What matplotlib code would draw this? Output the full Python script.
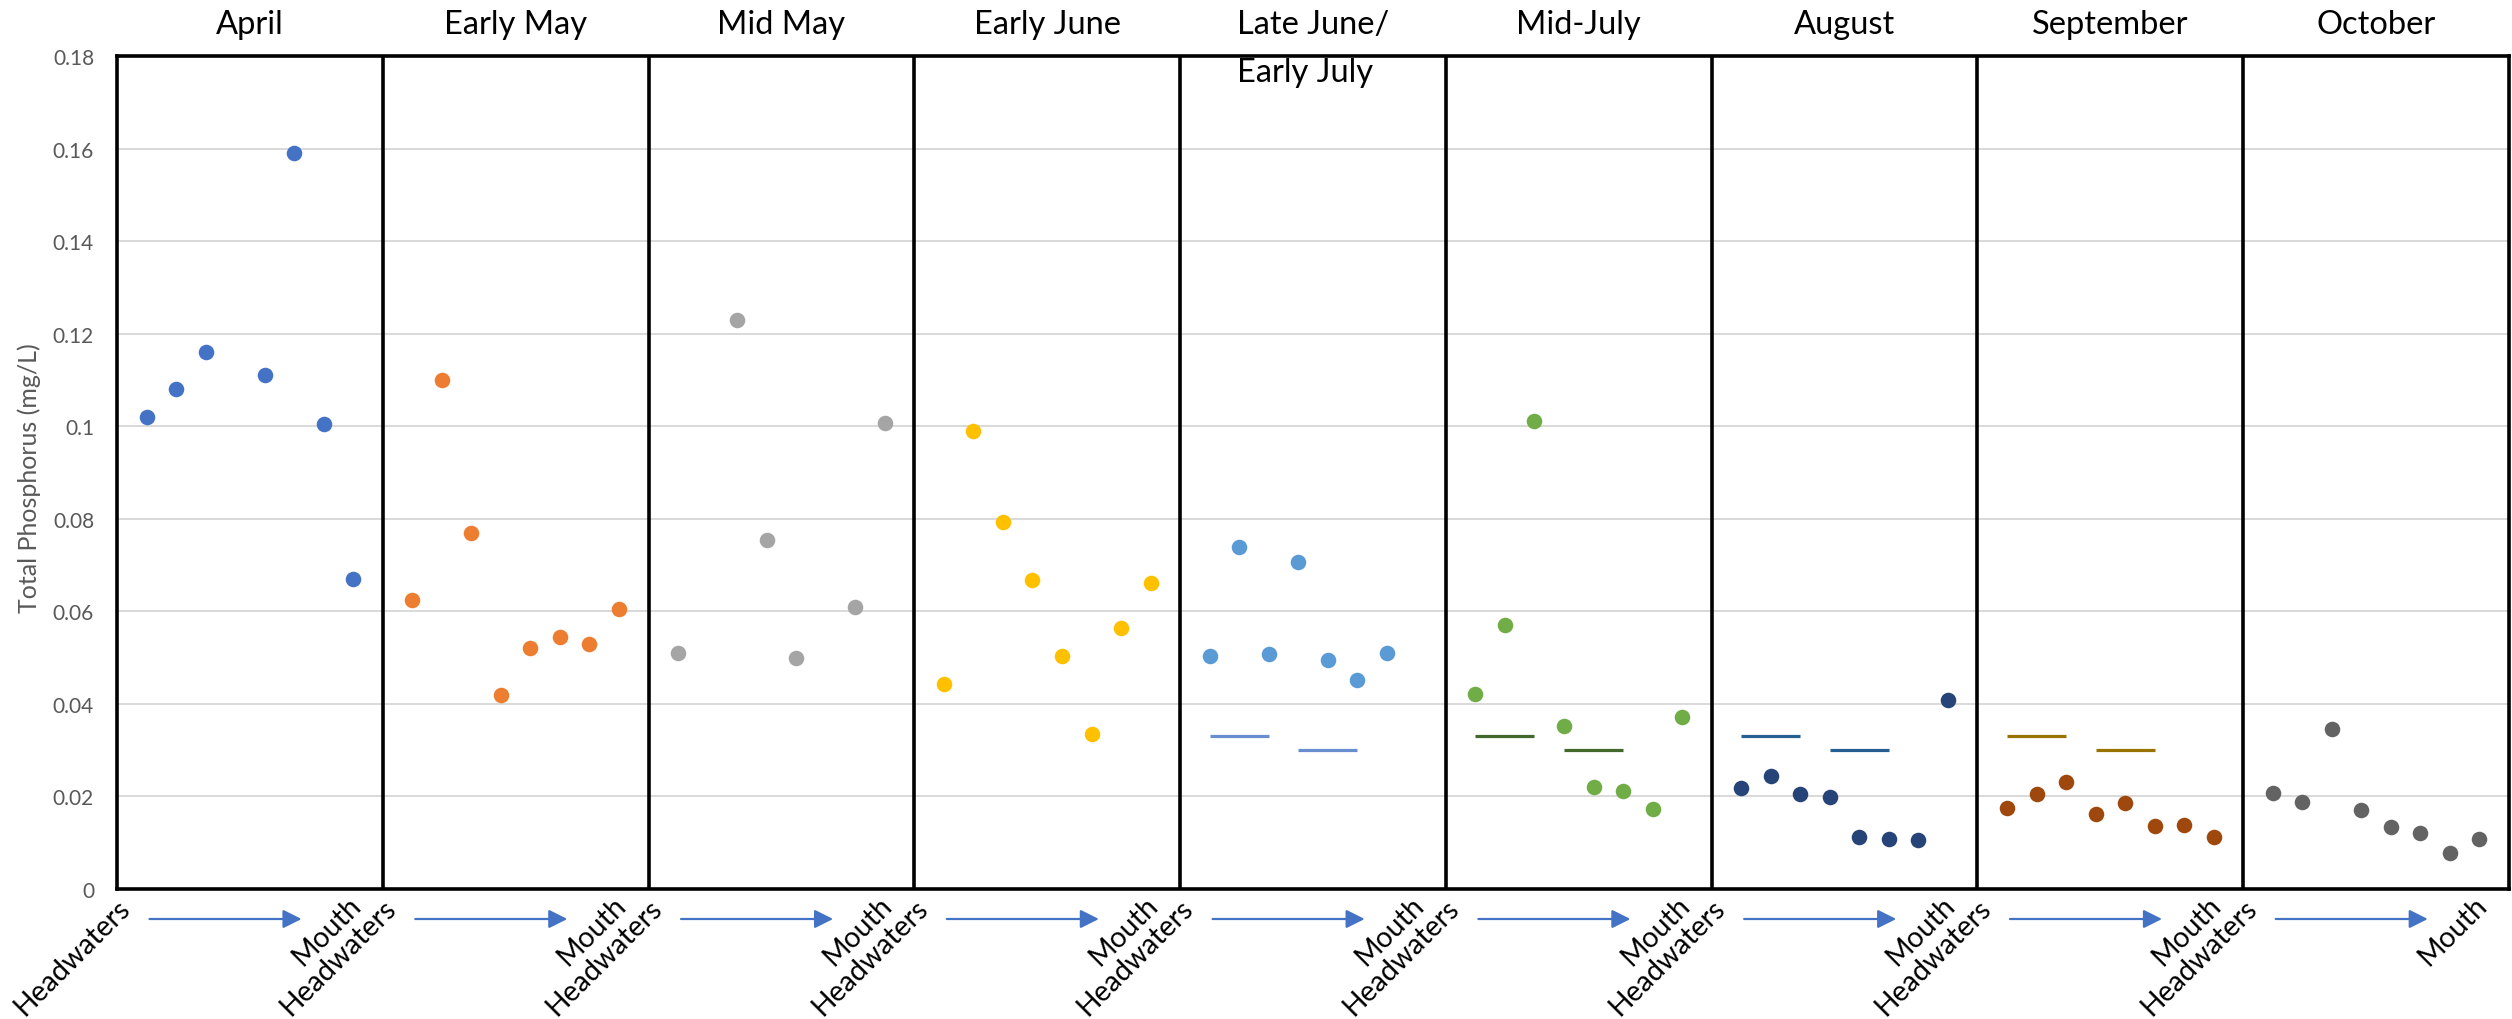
import numpy as np
import matplotlib
matplotlib.use("Agg")
import matplotlib.pyplot as plt
from matplotlib.transforms import blended_transform_factory
from matplotlib.ticker import FuncFormatter

nan = np.nan

# ---------------- data ----------------
months = ["April", "Early May", "Mid May", "Early June", "Late June/\nEarly July",
          "Mid-July", "August", "September", "October"]

april      = [0.102, 0.108, 0.116, nan, 0.111, 0.159, 0.1005, 0.067]
early_may  = [0.0625, 0.110, 0.077, 0.042, 0.052, 0.0545, 0.053, 0.0605]
mid_may    = [0.051, nan, 0.123, 0.0755, 0.050, nan, 0.061, 0.1008]
early_june = [0.0444, 0.099, 0.0792, 0.0667, 0.0503, 0.0336, 0.0563, 0.0661]
late_june  = [0.0504, 0.0738, 0.0508, 0.0707, 0.0495, 0.0451, 0.0509, nan]
mid_july   = [0.0421, 0.0571, 0.1011, 0.0352, 0.0221, 0.0212, 0.0172, 0.0371]
august     = [0.0218, 0.0245, 0.0205, 0.0198, 0.0113, 0.0108, 0.0105, 0.0409]
september  = [0.0175, 0.0206, 0.0231, 0.0162, 0.0185, 0.0136, 0.0139, 0.0112]
october    = [0.0208, 0.0188, 0.0345, 0.0171, 0.0135, 0.0121, 0.0078, 0.0109]

series = [april, early_may, mid_may, early_june, late_june,
          mid_july, august, september, october]

# reference (criteria) levels drawn in four of the months
ref_months = ["Late June/\nEarly July", "Mid-July", "August", "September"]
ref_values = [0.033, 0.030]

y_ticks = [0, 0.02, 0.04, 0.06, 0.08, 0.10, 0.12, 0.14, 0.16, 0.18]
start_label = "Headwaters"
end_label = "Mouth"
y_label = "Total Phosphorus (mg/L)"

# ---------------- style ----------------
marker_colors = ["#4472C4", "#ED7D31", "#A5A5A5", "#FFC000", "#5B9BD5",
                 "#70AD47", "#264478", "#9E480E", "#636363"]
ref_colors = {"Late June/\nEarly July": "#698ED0", "Mid-July": "#43682B",
              "August": "#255E91", "September": "#997300"}
ref_spans = [(1, 3), (4, 6)]   # slot ranges of the two reference segments
SLOTS = 9                       # slots per panel (8 sites + spacing)
FONT = "Lato"

plt.rcParams["font.family"] = [FONT, "DejaVu Sans"]

W, H = 2512, 1020
fig = plt.figure(figsize=(W / 100, H / 100), dpi=100)
left_px, right_px, top_px, bottom_px = 117, 2509, 57, 890
ax = fig.add_axes([left_px / W, 1 - bottom_px / H,
                   (right_px - left_px) / W, (bottom_px - top_px) / H])
ax_h_px = bottom_px - top_px

n_panels = len(months)
ax.set_xlim(0, n_panels * SLOTS)
ax.set_ylim(0, 0.18)

# gridlines
ax.set_yticks(y_ticks)
ax.yaxis.set_major_formatter(FuncFormatter(lambda v, p: format(round(v, 2), "g")))
ax.grid(axis="y", color="#D9D9D9", linewidth=1.4, zorder=0)
ax.set_axisbelow(True)
ax.set_xticks([])
ax.tick_params(axis="y", length=0, pad=16.5, labelsize=15, labelcolor="#595959")
for sp in ax.spines.values():
    sp.set_color("black")
    sp.set_linewidth(2.6)

# panel dividers
for i in range(1, n_panels):
    ax.axvline(i * SLOTS, color="black", linewidth=2.6, zorder=3)

# points
for i, (vals, col) in enumerate(zip(series, marker_colors)):
    xs = i * SLOTS + np.arange(1, len(vals) + 1)
    ax.plot(xs, vals, linestyle="none", marker="o", markersize=11.2,
            markerfacecolor=col, markeredgewidth=0, zorder=4)

# reference segments
for m in ref_months:
    i = months.index(m)
    for (a, b), v in zip(ref_spans, ref_values):
        ax.plot([i * SLOTS + a, i * SLOTS + b], [v, v], color=ref_colors[m],
                linewidth=2.3, solid_capstyle="butt", zorder=4)

# titles
tx = blended_transform_factory(ax.transData, fig.transFigure)
for i, m in enumerate(months):
    ax.text(i * SLOTS + SLOTS / 2, 1 - 10 / H, m, transform=tx, ha="center",
            va="top", multialignment="left", fontsize=23.5, color="black",
            linespacing=1.75, zorder=6)

# bottom labels and arrows
bx = blended_transform_factory(ax.transData, ax.transAxes)
for i in range(n_panels):
    x0 = i * SLOTS
    ax.text(x0 + 0.5, -20 / ax_h_px, start_label, transform=bx, rotation=45,
            rotation_mode="anchor", ha="right", va="baseline", fontsize=20.5,
            color="black")
    ax.text(x0 + 8.3, -17 / ax_h_px, end_label, transform=bx, rotation=45,
            rotation_mode="anchor", ha="right", va="baseline", fontsize=20.5,
            color="black")
    ax.annotate("", xy=(x0 + 6.25, -30 / ax_h_px), xytext=(x0 + 1.1, -30 / ax_h_px),
                xycoords=bx, textcoords=bx,
                arrowprops=dict(arrowstyle="-|>", color="#4472C4", lw=1.6,
                                mutation_scale=28, shrinkA=0, shrinkB=0))

fig.text(29.5 / W, 1 - 478 / H, y_label, rotation=90, ha="center", va="center",
         fontsize=18, color="#595959")

fig.savefig("out.png", dpi=100)
